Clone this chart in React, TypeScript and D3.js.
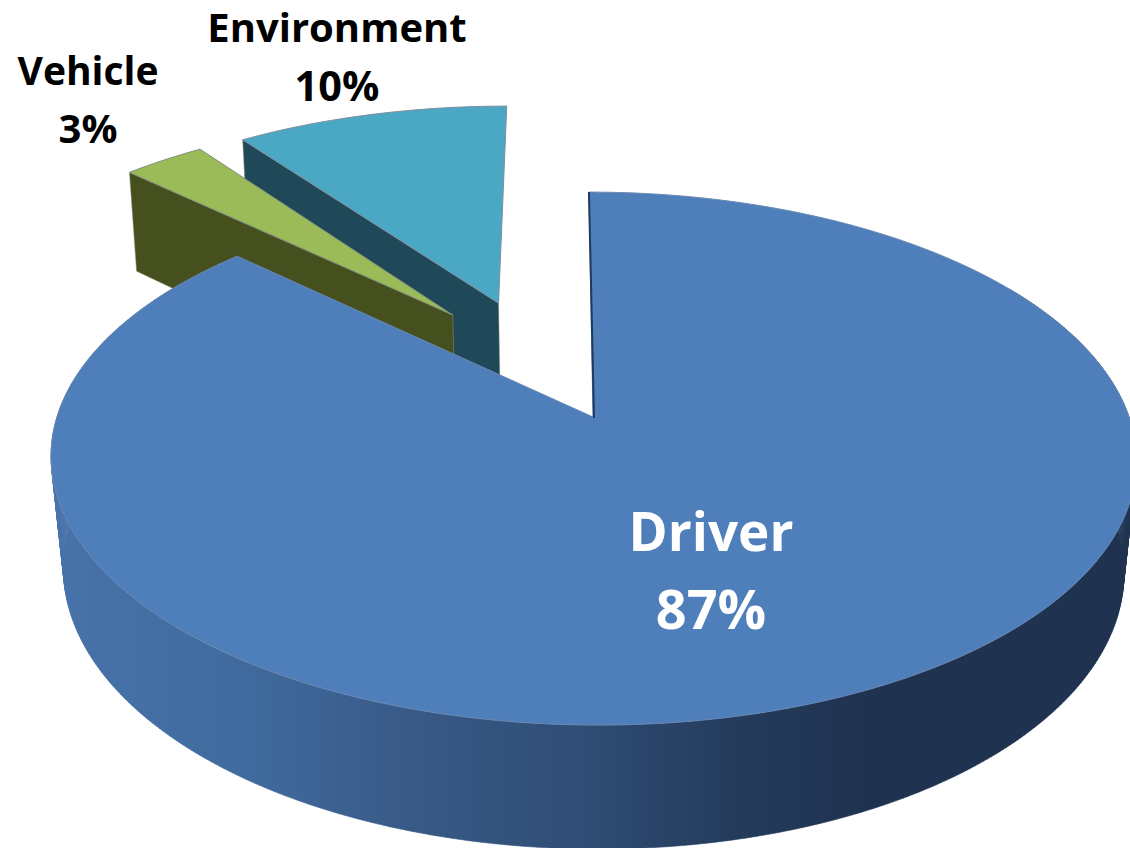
import { useEffect, useRef } from "react";
import * as d3 from "d3";

const categories = ["Driver", "Vehicle", "Environment"];
const shares = [87, 3, 10];
const shareLabels = ["87%", "3%", "10%"];

const width = 1130;
const height = 848;

// pulled-out slices, in disk units
const explodeU = [0, -0.275, -0.185];
const explodeV = [0, -0.418, -0.47];

const topColors = ["#4f7fbb", "#9bbb59", "#4aa8c4"];
const wallColors = ["#1f3a5f", "#46501f", "#1f4858"];
const edgeColors = ["#6a88b2", "#7f8c7e", "#7f8c9e"];
const drawOrder = [2, 1, 0];

// fake 3d: disk coords -> screen, top face
const project = (u: number, v: number): [number, number] => {
  const s = 1 / (1 - 0.156 * v);
  return [563 + (u * 536 + 30) * s, 417 + v * 260 * s];
};

// same point on the lower face of the pie
const projectLow = (u: number, v: number): [number, number] => {
  const [px, py] = project(u, v);
  return [592 + (px - 592) * (0.978 - 0.006 * v), py + 112 + 12 * v];
};

const line = d3.line();

export default function App() {
  const ref = useRef<SVGSVGElement>(null);

  useEffect(() => {
    if (!ref.current) return;
    const svg = d3.select(ref.current);
    svg.selectAll("*").remove();

    const grad = svg
      .append("defs")
      .append("linearGradient")
      .attr("id", "wall")
      .attr("gradientUnits", "userSpaceOnUse")
      .attr("x1", 50)
      .attr("x2", 870)
      .attr("y1", 0)
      .attr("y2", 0);
    [
      [0, "#4873aa"],
      [0.25, "#406a9d"],
      [0.42, "#395b89"],
      [0.65, "#2f4d75"],
      [0.85, "#233a5a"],
      [1, "#1f3350"],
    ].forEach(([o, c]) => grad.append("stop").attr("offset", o).attr("stop-color", c));

    const arcs = d3.pie<number>().sort(null)(shares);

    drawOrder.forEach((i) => {
      const a = arcs[i];
      const du = explodeU[i];
      const dv = explodeV[i];
      const at = (t: number) => [du + Math.sin(t), dv - Math.cos(t)] as const;

      const rim = d3.range(a.startAngle, a.endAngle, 0.01).concat(a.endAngle);
      const apex = project(du, dv);
      const apexLow = projectLow(du, dv);

      if (i === 0) {
        // outer wall, one strip per step so the side edges stay filled
        const front = rim.filter((t) => t > 1.0 && t < 5.3);
        let walls = "";
        front.slice(1).forEach((t, k) => {
          const t0 = front[k];
          walls += line([
            project(...at(t0)),
            project(...at(t)),
            projectLow(...at(t)),
            projectLow(...at(t0)),
          ]) + "Z";
        });
        svg.append("path").attr("d", walls).attr("fill", "url(#wall)").attr("stroke", "url(#wall)").attr("stroke-width", 0.6);
      } else {
        // cut face on the left side of the slice
        const corner = at(a.startAngle);
        svg
          .append("path")
          .attr("d", line([apex, project(...corner), projectLow(...corner), apexLow]) + "Z")
          .attr("fill", wallColors[i])
          .attr("stroke", "#8c9478")
          .attr("stroke-width", 0.5);
      }

      const outline = [apex, ...rim.map((t) => project(...at(t)))];
      svg
        .append("path")
        .attr("d", line(outline) + "Z")
        .attr("fill", topColors[i])
        .attr("stroke", edgeColors[i])
        .attr("stroke-width", 1);

      if (i === 0) {
        // thin dark sliver of the inner cut
        svg
          .append("path")
          .attr("d", line([project(...at(0)), [apex[0] + 1, apex[1] + 1]]))
          .attr("stroke", wallColors[0])
          .attr("stroke-width", 2)
          .attr("fill", "none");
      }
    });

    const labels = [
      { i: 2, x: 337, y1: 42, y2: 101, size1: 40, size2: 41.5, fill: "#000" },
      { i: 1, x: 88, y1: 85, y2: 143, size1: 39, size2: 40, fill: "#000" },
      { i: 0, x: 711, y1: 551, y2: 629, size1: 53, size2: 54, fill: "#fff" },
    ];
    labels.forEach((l) => {
      [
        [categories[l.i], l.y1, l.size1],
        [shareLabels[l.i], l.y2, l.size2],
      ].forEach(([txt, y, size]) => {
        svg
          .append("text")
          .attr("x", l.x)
          .attr("y", y)
          .attr("text-anchor", "middle")
          .style("font-family", "'Open Sans', sans-serif")
          .style("font-weight", "700")
          .style("font-size", `${size}px`)
          .style("fill", l.fill)
          .text(txt as string);
      });
    });
  }, []);

  return (
    <svg
      ref={ref}
      width={width}
      height={height}
      style={{ position: "absolute", left: 0, top: 0, display: "block", background: "#fff" }}
    />
  );
}
